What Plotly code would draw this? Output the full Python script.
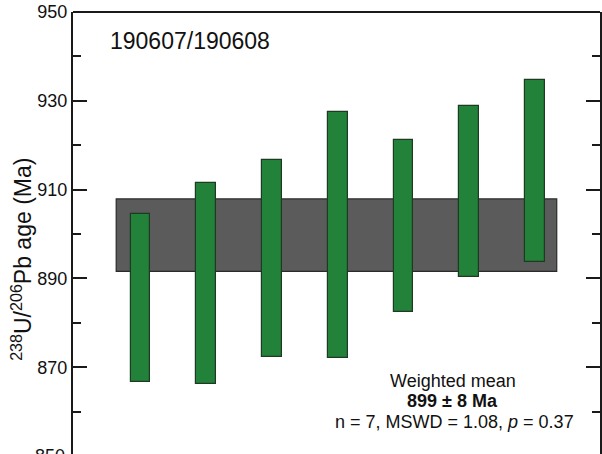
import plotly.graph_objects as go

# Data
samples = [1, 2, 3, 4, 5, 6, 7]
age_top = [904.5, 911.4, 916.7, 927.4, 921.1, 928.9, 934.7]
age_bottom = [866.7, 866.3, 872.4, 872.0, 882.5, 890.4, 893.7]
band_top = 907.9
band_bottom = 891.6
sample_label = "190607/190608"
y_ticks = [850, 870, 890, 910, 930, 950]
y_range = [850.45, 950]

FONT = "Liberation Sans, Arial, Helvetica, sans-serif"
GREEN = "#23823a"
BAND = "#5b5b5b"
AX = "#1a1a1a"
TXT = "#111"

heights = [t - b for t, b in zip(age_top, age_bottom)]

fig = go.Figure()

# Weighted mean band
fig.add_shape(type="rect", xref="x", yref="y",
              x0=samples[0] - 0.37, x1=samples[-1] + 0.33,
              y0=band_bottom, y1=band_top,
              fillcolor=BAND, line=dict(color="#2a2a2a", width=1.2),
              layer="below")

fig.add_trace(go.Bar(
    x=samples, y=heights, base=age_bottom, width=0.3,
    marker=dict(color=GREEN, line=dict(color="#1f3a22", width=1.2)),
    showlegend=False, hoverinfo="skip"))

# invisible trace to carry the right-hand axis
fig.add_trace(go.Scatter(x=[samples[0]], y=[y_ticks[1]], yaxis="y2", mode="markers",
                         marker=dict(opacity=0), showlegend=False, hoverinfo="skip"))

# top frame line
fig.add_shape(type="line", xref="paper", yref="paper", x0=0, x1=1, y0=1, y1=1,
              line=dict(color=AX, width=2))

fig.add_annotation(xref="paper", yref="paper", x=0.066, y=0.935,
                   xanchor="left", yanchor="middle", showarrow=False,
                   text=sample_label, font=dict(family=FONT, size=23, color=TXT))

fig.add_annotation(xref="paper", yref="y", x=0.721, y=867.0, showarrow=False,
                   xanchor="center", yanchor="middle",
                   text="Weighted mean", font=dict(family=FONT, size=18, color=TXT))
fig.add_annotation(xref="paper", yref="y", x=0.721, y=862.4, showarrow=False,
                   xanchor="center", yanchor="middle",
                   text="<b>899 ± 8 Ma</b>", font=dict(family=FONT, size=18, color=TXT))
fig.add_annotation(xref="paper", yref="y", x=0.724, y=857.7, showarrow=False,
                   xanchor="center", yanchor="middle",
                   text="n = 7, MSWD = 1.08, <i>p</i> = 0.37",
                   font=dict(family=FONT, size=18, color=TXT))

# partially visible bottom tick label (just below the visible plot area)
fig.add_annotation(xref="paper", yref="paper", x=0, xshift=-6,
                   y=-(y_range[0] - y_ticks[0]) / (y_range[1] - y_range[0]),
                   xanchor="right", yanchor="middle", showarrow=False, text=str(y_ticks[0]),
                   font=dict(family=FONT, size=18, color=TXT))

# y-axis title as rotated annotation
fig.add_annotation(xref="paper", yref="paper", x=-0.098, y=0.44,
                   xanchor="center", yanchor="middle", showarrow=False, textangle=-90,
                   text="<sup>238</sup>U/<sup>206</sup>Pb age (Ma)",
                   font=dict(family=FONT, size=23, color=TXT))

axis_common = dict(range=y_range, tickvals=y_ticks, showgrid=False, zeroline=False,
                   automargin=False, showline=True, linecolor=AX, linewidth=2,
                   ticks="inside", ticklen=14, tickwidth=2, tickcolor=AX,
                   minor=dict(dtick=10, ticks="inside", ticklen=8, tickwidth=2, tickcolor=AX))

fig.update_layout(
    width=602, height=454,
    margin=dict(l=73, r=2, t=12, b=0, autoexpand=False),
    paper_bgcolor="white", plot_bgcolor="white",
    bargap=0,
    xaxis=dict(range=[-0.027, 7.988], showline=False, showgrid=False,
               zeroline=False, showticklabels=False, ticks="", automargin=False),
    yaxis=dict(**axis_common, side="left",
               tickfont=dict(family=FONT, size=18, color=TXT)),
    yaxis2=dict(**axis_common, side="right", overlaying="y", anchor="x",
                showticklabels=False),
    font=dict(family=FONT),
)

fig.write_html("out.html", config={"displayModeBar": False},
               post_script="document.body.style.margin='0';document.body.style.overflow='hidden';")
